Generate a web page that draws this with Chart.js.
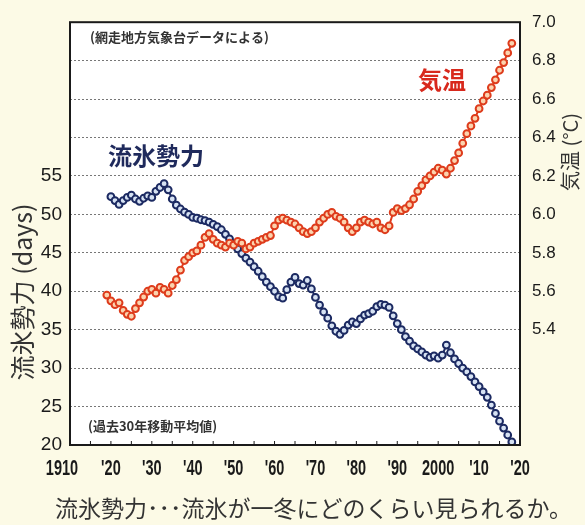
<!DOCTYPE html>
<html>
<head>
<meta charset="utf-8">
<style>
  html, body { margin: 0; padding: 0; background: #fcfae6; }
  canvas { display: block; }
</style>
<script src="https://cdn.jsdelivr.net/npm/chart.js@4"></script>
</head>
<body>
<canvas id="chart" width="585" height="525"></canvas>
<script>
// 30-year moving averages, one value per year
const tempFirstYear = 1919;
const tempValues = [
  5.58, 5.55, 5.53, 5.54, 5.50, 5.48, 5.47, 5.51, 5.54, 5.57,
  5.60, 5.61, 5.59, 5.62, 5.61, 5.59, 5.63, 5.66, 5.71, 5.76,
  5.78, 5.80, 5.81, 5.84, 5.88, 5.90, 5.87, 5.85, 5.84, 5.83,
  5.85, 5.84, 5.86, 5.85, 5.82, 5.83, 5.85, 5.86, 5.87, 5.88,
  5.89, 5.94, 5.97, 5.98, 5.97, 5.96, 5.95, 5.93, 5.91, 5.90,
  5.91, 5.93, 5.96, 5.98, 6.00, 6.01, 5.99, 5.98, 5.96, 5.93,
  5.91, 5.93, 5.96, 5.97, 5.96, 5.95, 5.96, 5.93, 5.92, 5.94,
  6.01, 6.03, 6.02, 6.03, 6.05, 6.08, 6.12, 6.15, 6.18, 6.20,
  6.22, 6.24, 6.23, 6.21, 6.24, 6.28, 6.32, 6.37, 6.42, 6.46,
  6.50, 6.55, 6.59, 6.62, 6.66, 6.70, 6.75, 6.79, 6.84, 6.89,
];

const iceFirstYear = 1920;
const iceValues = [
  52.3, 51.8, 51.3, 51.8, 52.2, 52.5, 52.0, 51.7, 52.1, 52.4,
  52.2, 53.0, 53.5, 54.0, 53.2, 52.0, 51.2, 50.7, 50.3, 50.0,
  49.6, 49.5, 49.3, 49.2, 49.0, 48.7, 48.4, 48.0, 47.4, 46.8,
  46.2, 45.5, 44.9, 44.3, 43.8, 43.2, 42.6, 41.9, 41.2, 40.6,
  40.0, 39.3, 39.1, 40.2, 41.2, 41.8, 41.0, 40.8, 41.4, 40.3,
  39.2, 38.2, 37.3, 36.5, 35.5, 34.8, 34.4, 34.9, 35.6, 36.0,
  35.8, 36.4, 36.9, 37.1, 37.4, 38.0, 38.3, 38.2, 37.9, 36.8,
  35.8, 35.0, 34.1, 33.5, 32.9, 32.5, 32.1, 31.7, 31.4, 31.6,
  31.3, 31.7, 33.0, 32.0, 31.2, 30.6, 30.0, 29.5, 28.9, 28.2,
  27.6, 26.9, 26.2, 25.2, 24.1, 23.1, 22.2, 21.3, 20.4,
];

const xTickYears = [1910, 1920, 1930, 1940, 1950, 1960, 1970, 1980, 1990, 2000, 2010, 2020];

function toPoints(firstYear, values) {
  return values.map((v, i) => ({ x: firstYear + i, y: v }));
}

function xLabel(year) {
  if (year === 1910 || year === 2000) return String(year);
  return "'" + String(year).slice(2);
}

const jp = '"Noto Sans CJK JP", sans-serif';
const latin = '"Liberation Sans", Arial, sans-serif';

const decorations = {
  id: "decorations",
  beforeDraw(chart) {
    const { ctx, chartArea: a } = chart;
    ctx.save();
    ctx.fillStyle = "#fcfae6";
    ctx.fillRect(0, 0, chart.width, chart.height);
    ctx.fillStyle = "#ffffff";
    ctx.fillRect(a.left, a.top, a.right - a.left, a.bottom - a.top);
    ctx.restore();
  },
  afterDraw(chart) {
    const { ctx, chartArea: a } = chart;
    const xs = chart.scales.x;
    ctx.save();

    // frame
    ctx.strokeStyle = "#1a1a1a";
    ctx.lineWidth = 2;
    ctx.strokeRect(a.left, a.top, a.right - a.left, a.bottom - a.top);

    // small inner ticks on the bottom axis
    ctx.lineWidth = 1;
    for (let y = 1915; y < 2020; y += 5) {
      const px = xs.getPixelForValue(y);
      ctx.beginPath();
      ctx.moveTo(px, a.bottom);
      ctx.lineTo(px, a.bottom - 4);
      ctx.stroke();
    }

    // condensed year labels, placed by the x scale
    ctx.fillStyle = "#1a1a1a";
    ctx.textBaseline = "middle";
    ctx.textAlign = "center";
    ctx.font = "bold 22px " + latin;
    xs.ticks.forEach((t) => {
      let px = xs.getPixelForValue(t.value);
      if (t.value === 1910) px -= 8;
      ctx.save();
      ctx.translate(px, 469);
      ctx.scale(0.66, 1);
      ctx.fillText(xLabel(t.value), 0, 0);
      ctx.restore();
    });

    // notes inside the plot
    ctx.fillStyle = "#333";
    ctx.textAlign = "left";
    ctx.font = "bold 13px " + jp;
    ctx.fillText("(網走地方気象台データによる)", 90, 37);
    ctx.fillText("(過去30年移動平均値)", 88, 426);

    // series names
    ctx.font = "bold 24px " + jp;
    ctx.fillStyle = "#1f2a5c";
    ctx.fillText("流氷勢力", 108, 156);
    ctx.fillStyle = "#d8281c";
    ctx.fillText("気温", 418, 80);

    // axis titles, both reading bottom to top
    ctx.fillStyle = "#333";
    ctx.textAlign = "center";
    ctx.save();
    ctx.translate(22, 292);
    ctx.rotate(-Math.PI / 2);
    ctx.font = "25px " + jp;
    ctx.fillText("流氷勢力 (days)", 0, 0);
    ctx.restore();

    ctx.save();
    ctx.translate(570, 152);
    ctx.rotate(-Math.PI / 2);
    ctx.font = "20px " + jp;
    ctx.fillText("気温 (°C)", 0, 0);
    ctx.restore();

    // caption
    ctx.font = "23px " + jp;
    ctx.textAlign = "left";
    ctx.fillStyle = "#333";
    ctx.fillText("流氷勢力･･･流氷が一冬にどのくらい見られるか。", 55, 508);

    ctx.restore();
  },
};

new Chart(document.getElementById("chart"), {
  type: "line",
  data: {
    datasets: [
      {
        label: "気温",
        data: toPoints(tempFirstYear, tempValues),
        yAxisID: "yTemp",
        borderColor: "#de3c1c",
        borderWidth: 2,
        pointRadius: 3.4,
        pointBorderWidth: 2,
        pointBorderColor: "#de3c1c",
        pointBackgroundColor: "#fbd3ae",
      },
      {
        label: "流氷勢力",
        data: toPoints(iceFirstYear, iceValues),
        yAxisID: "yIce",
        borderColor: "#1c2a62",
        borderWidth: 2,
        pointRadius: 3.4,
        pointBorderWidth: 2,
        pointBorderColor: "#1c2a62",
        pointBackgroundColor: "#d6e2f3",
      },
    ],
  },
  options: {
    responsive: false,
    animation: false,
    layout: { padding: { top: 18, left: 0, right: 0, bottom: 0 } },
    plugins: {
      legend: { display: false },
      tooltip: { enabled: false },
    },
    scales: {
      x: {
        type: "linear",
        min: 1910,
        max: 2020,
        afterFit: (s) => { s.height = 80; },
        afterBuildTicks: (s) => { s.ticks = xTickYears.map((v) => ({ value: v })); },
        grid: { display: false },
        border: { display: false },
        ticks: { display: false },
      },
      yIce: {
        position: "left",
        min: 20,
        max: 75,
        afterFit: (s) => { s.width = 70; },
        grid: {
          drawTicks: false,
          lineWidth: 1,
          color: (ctx) => (ctx.tick.value === 20 || ctx.tick.value === 75 ? "rgba(0,0,0,0)" : "#777"),
        },
        border: { display: false, dash: [2, 2] },
        ticks: {
          stepSize: 5,
          padding: 8,
          color: "#1a1a1a",
          font: { family: latin, size: 19 },
          callback: (v) => (v <= 55 ? String(v) : ""),
        },
      },
      yTemp: {
        position: "right",
        min: 4.8,
        max: 7.0,
        afterFit: (s) => { s.width = 65; },
        grid: { display: false, drawTicks: false },
        border: { display: false },
        ticks: {
          stepSize: 0.2,
          padding: 12,
          color: "#1a1a1a",
          font: { family: latin, size: 17 },
          callback: (v) => (v > 5.39 ? v.toFixed(1) : ""),
        },
      },
    },
  },
  plugins: [decorations],
});
</script>
</body>
</html>
